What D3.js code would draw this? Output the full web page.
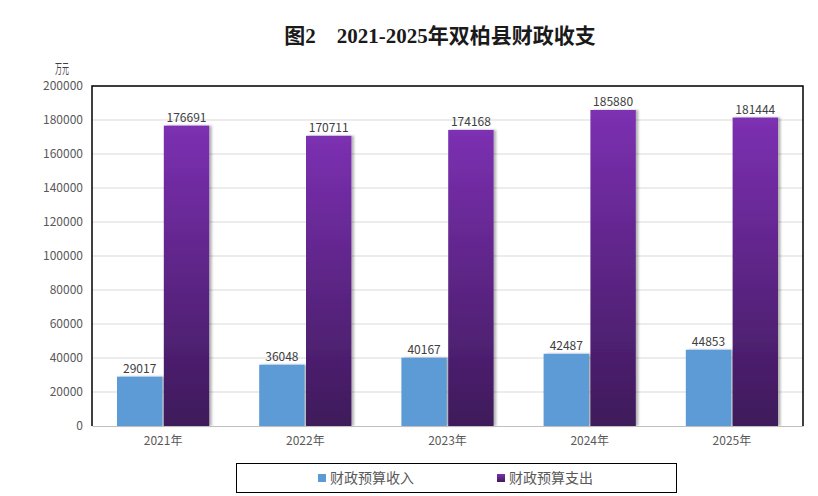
<!doctype html>
<html lang="zh-CN">
<head>
    <meta charset="UTF-8">
    <title>图2 2021-2025年双柏县财政收支</title>
    <script type="text/javascript" src="https://cdn.jsdelivr.net/npm/d3@7"></script>
    <style type="text/css">
        body {
            margin: 0;
            background: #fff;
        }

        text {
            font-family: "Noto Sans CJK SC", "Noto Sans", sans-serif;
        }
    </style>
</head>
<body>
<script type="text/javascript">

    var w = 818;
    var h = 496;

    // data
    var years = ["2021年", "2022年", "2023年", "2024年", "2025年"];
    var seriesNames = ["财政预算收入", "财政预算支出"];
    var revenue = [29017, 36048, 40167, 42487, 44853];
    var expense = [176691, 170711, 174168, 185880, 181444];
    var yTicks = [0, 20000, 40000, 60000, 80000, 100000, 120000, 140000, 160000, 180000, 200000];

    var plotLeft = 92, plotRight = 803, plotTop = 86, plotBottom = 426;

    var svg = d3.select("body")
        .append("svg")
        .attr("width", w)
        .attr("height", h);

    // gradient + shadow
    var defs = svg.append("defs");
    var grad = defs.append("linearGradient")
        .attr("id", "purpleGrad")
        .attr("x1", 0).attr("y1", 0).attr("x2", 0).attr("y2", 1);
    grad.append("stop").attr("offset", "0%").attr("stop-color", "#7c30b2");
    grad.append("stop").attr("offset", "100%").attr("stop-color", "#3e1a5a");

    var shadow = defs.append("filter")
        .attr("id", "shadow")
        .attr("x", "-10%").attr("y", "-10%")
        .attr("width", "130%").attr("height", "120%");
    shadow.append("feDropShadow")
        .attr("dx", 2.5).attr("dy", 0)
        .attr("stdDeviation", 0.8)
        .attr("flood-color", "#000")
        .attr("flood-opacity", 0.3);

    var yScale = d3.scaleLinear()
        .domain([0, 200000])
        .range([plotBottom, plotTop]);

    var x0 = d3.scaleBand()
        .domain(years)
        .range([plotLeft, plotRight]);

    var x1 = d3.scaleBand()
        .domain(seriesNames)
        .range([25, x0.bandwidth() - 25])
        .paddingInner(0.03);

    var colors = {"财政预算收入": "#5b9bd5", "财政预算支出": "url(#purpleGrad)"};

    // title
    svg.append("text")
        .attr("x", 440)
        .attr("y", 43)
        .attr("text-anchor", "middle")
        .attr("font-size", "21px")
        .attr("font-weight", "bold")
        .style("font-family", "'Liberation Serif', 'Noto Sans CJK SC', serif")
        .attr("fill", "#1a1a1a")
        .text("图2　2021-2025年双柏县财政收支");

    // unit
    svg.append("text")
        .attr("x", 55)
        .attr("y", 73)
        .attr("font-size", "13px")
        .attr("fill", "#404040")
        .attr("textLength", 14)
        .attr("lengthAdjust", "spacingAndGlyphs")
        .text("万元");

    // gridlines
    svg.append("g")
        .selectAll("line")
        .data(yTicks.slice(1))
        .enter()
        .append("line")
        .attr("x1", plotLeft).attr("x2", plotRight)
        .attr("y1", function (d) { return yScale(d); })
        .attr("y2", function (d) { return yScale(d); })
        .attr("stroke", "#d9d9d9")
        .attr("stroke-width", 1);

    // y axis labels
    var yAxis = d3.axisLeft(yScale)
        .tickValues(yTicks)
        .tickSize(0)
        .tickPadding(9)
        .tickFormat(function (d) { return d; });
    var gy = svg.append("g")
        .attr("transform", "translate(" + plotLeft + ",0)")
        .call(yAxis);
    gy.select(".domain").remove();
    gy.selectAll("text")
        .attr("font-size", "12px")
        .attr("fill", "#595959")
        .style("font-family", "'Noto Sans CJK SC', sans-serif");

    // bars
    var rows = years.map(function (y, i) {
        return {year: y, values: [
            {name: seriesNames[0], value: revenue[i]},
            {name: seriesNames[1], value: expense[i]}
        ]};
    });

    var groups = svg.append("g")
        .selectAll("g")
        .data(rows)
        .enter()
        .append("g")
        .attr("transform", function (d) { return "translate(" + x0(d.year) + ",0)"; });

    groups.selectAll("rect")
        .data(function (d) { return d.values; })
        .enter()
        .append("rect")
        .attr("x", function (d) { return x1(d.name); })
        .attr("y", function (d) { return yScale(d.value); })
        .attr("width", x1.bandwidth())
        .attr("height", function (d) { return plotBottom - yScale(d.value); })
        .attr("fill", function (d) { return colors[d.name]; })
        .attr("filter", "url(#shadow)");

    groups.selectAll("text.val")
        .data(function (d) { return d.values; })
        .enter()
        .append("text")
        .attr("class", "val")
        .attr("x", function (d) { return x1(d.name) + x1.bandwidth() / 2; })
        .attr("y", function (d) { return yScale(d.value) - 4; })
        .attr("text-anchor", "middle")
        .attr("font-size", "12px")
        .attr("fill", "#404040")
        .text(function (d) { return d.value; });

    // x axis
    var xAxis = d3.axisBottom(x0).tickSize(0).tickPadding(10);
    var gx = svg.append("g")
        .attr("transform", "translate(0," + plotBottom + ")")
        .call(xAxis);
    gx.select(".domain").attr("stroke", "#bfbfbf");
    gx.selectAll("text")
        .attr("font-size", "12px")
        .attr("fill", "#595959")
        .style("font-family", "'Noto Sans CJK SC', sans-serif");

    // frame (left, top, right)
    svg.append("path")
        .attr("d", "M" + plotLeft + "," + plotBottom + "V" + plotTop + "H" + plotRight + "V" + plotBottom)
        .attr("fill", "none")
        .attr("stroke", "#000")
        .attr("stroke-width", 1.5);

    // legend
    var lg = svg.append("g");
    lg.append("rect")
        .attr("x", 236.5).attr("y", 463.5)
        .attr("width", 440).attr("height", 29)
        .attr("fill", "#fff")
        .attr("stroke", "#000")
        .attr("stroke-width", 1);

    var legendX = [318, 497];
    var items = lg.selectAll("g")
        .data(seriesNames)
        .enter()
        .append("g")
        .attr("transform", function (d, i) { return "translate(" + legendX[i] + ",474)"; });
    items.append("rect")
        .attr("width", 8).attr("height", 8)
        .attr("fill", function (d) { return colors[d]; });
    items.append("text")
        .attr("x", 12)
        .attr("y", 9)
        .attr("font-size", "14px")
        .attr("fill", "#595959")
        .text(function (d) { return d; });

</script>

</body>
</html>
